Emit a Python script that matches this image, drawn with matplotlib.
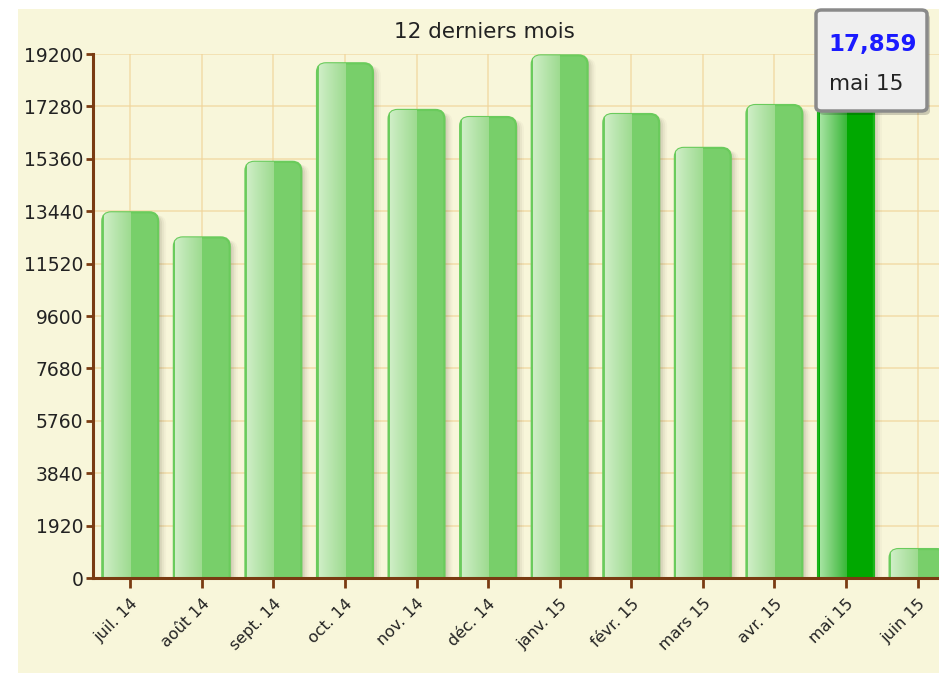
import numpy as np
import matplotlib
matplotlib.use("Agg")
from matplotlib import pyplot as plt
from matplotlib.patches import FancyBboxPatch, Rectangle
from matplotlib.colors import LinearSegmentedColormap

months = ['juil. 14', 'août 14', 'sept. 14', 'oct. 14', 'nov. 14', 'déc. 14',
          'janv. 15', 'févr. 15', 'mars 15', 'avr. 15', 'mai 15', 'juin 15']
values = [13400, 12480, 15250, 18860, 17150, 16890,
          19150, 17000, 15760, 17330, 17859, 1060]
y_ticks = [0, 1920, 3840, 5760, 7680, 9600, 11520, 13440, 15360, 17280, 19200]
highlight = 'mai 15'
title = '12 derniers mois'

BG = '#f8f6da'
GRID = '#f0d49a'
BROWN = '#7a3b12'
TXT = '#222222'

plt.rcParams.update({
    'font.family': 'DejaVu Sans',
    'font.size': 13,
})

fig = plt.figure(figsize=(9.39, 6.73), dpi=100)
W, H = 939, 673
# cream panel behind the chart
fig.patches.append(Rectangle((18 / W, 0), 1 - 18 / W, 1 - 9 / H, transform=fig.transFigure,
                             facecolor=BG, edgecolor='none', zorder=-5))

ax = fig.add_axes([93 / W, 95 / H, 1 - 93 / W, 524 / H])
ax.set_facecolor('none')
x = np.arange(len(months))

ax.set_yticks(y_ticks)
ax.set_xticks(x)
ax.grid(True, color=GRID, linewidth=1.2, zorder=5)

bars = ax.bar(x, values, width=0.78, color='none', edgecolor='none')

# px -> data conversions for the rounded corners
px_x = 1 / 71.6
px_y = 19200 / 524
radius = 9 * px_x
aspect = px_y / px_x

light = LinearSegmentedColormap.from_list('light', ['#cfeec6', '#b5e4aa', '#9edb90'])
light_hi = LinearSegmentedColormap.from_list('light_hi', ['#a6e4a2', '#70cc6c', '#38b838'])
grad = np.linspace(0, 1, 64).reshape(1, -1)

for name, rect in zip(months, bars):
    bx, bw, bh = rect.get_x(), rect.get_width(), rect.get_height()
    hi = name == highlight
    main = '#00a800' if hi else '#78cf6a'
    edge = '#1cb51c' if hi else '#6acb5c'
    # soft shadow on the right
    for off, a in [(2, 0.08), (4, 0.07), (6, 0.05), (8, 0.03)]:
        sh = FancyBboxPatch((bx + off * px_x, -400), bw, bh + 400 - 3 * px_y,
                            boxstyle=f"round,pad=0,rounding_size={radius}",
                            mutation_aspect=aspect, facecolor='#3a3020', alpha=a,
                            edgecolor='none', zorder=2)
        ax.add_patch(sh)
    body = FancyBboxPatch((bx, -400), bw, bh + 400,
                          boxstyle=f"round,pad=0,rounding_size={radius}",
                          mutation_aspect=aspect, facecolor=main,
                          edgecolor=edge, linewidth=1.6, zorder=3)
    ax.add_patch(body)
    im = ax.imshow(grad, cmap=light_hi if hi else light, aspect='auto',
                   extent=(bx + 1.5 * px_x, bx + bw / 2, 0, bh), zorder=4)
    im.set_clip_path(body)

ax.set_xlim(-0.52, 11.3)
ax.set_ylim(0, 19200)

# gridlines faintly visible through bars
for gl in ax.get_xgridlines() + ax.get_ygridlines():
    gl.set_alpha(0.7)

for s in ['top', 'right']:
    ax.spines[s].set_visible(False)
for s in ['left', 'bottom']:
    ax.spines[s].set_color(BROWN)
    ax.spines[s].set_linewidth(2.2)
    ax.spines[s].set_zorder(6)

ax.tick_params(axis='y', colors=BROWN, length=5, width=2, labelcolor=TXT, pad=2)
ax.tick_params(axis='x', colors=BROWN, length=7, width=2, labelcolor=TXT, pad=6)
ax.set_yticklabels([str(v) for v in y_ticks], fontsize=13.5)
ax.set_xticklabels(months, rotation=45, ha='right', rotation_mode='anchor', fontsize=11.5)

fig.text(484 / W, 1 - 32 / H, title, ha='center', va='center', fontsize=15.5, color=TXT)

# tooltip
hi_val = values[months.index(highlight)]
shadow = FancyBboxPatch((819 / W, 1 - 115 / H), 111 / W, 101 / H,
                        boxstyle="round,pad=0,rounding_size=0.006",
                        transform=fig.transFigure, facecolor='#000000', alpha=0.18,
                        edgecolor='none', zorder=9)
fig.patches.append(shadow)
tip = FancyBboxPatch((816 / W, 1 - 111 / H), 111 / W, 101 / H,
                     boxstyle="round,pad=0,rounding_size=0.006",
                     transform=fig.transFigure, facecolor='#efefef',
                     edgecolor='#8a8a8a', linewidth=2.5, zorder=10)
fig.patches.append(tip)
fig.text(873 / W, 1 - 44 / H, f"{hi_val:,}", ha='center', va='center', fontsize=16.5,
         fontweight='bold', color='#1a1aff', zorder=11)
fig.text(866 / W, 1 - 84 / H, highlight, ha='center', va='center', fontsize=15.5,
         color=TXT, zorder=11)

fig.savefig('out.png', dpi=100)
